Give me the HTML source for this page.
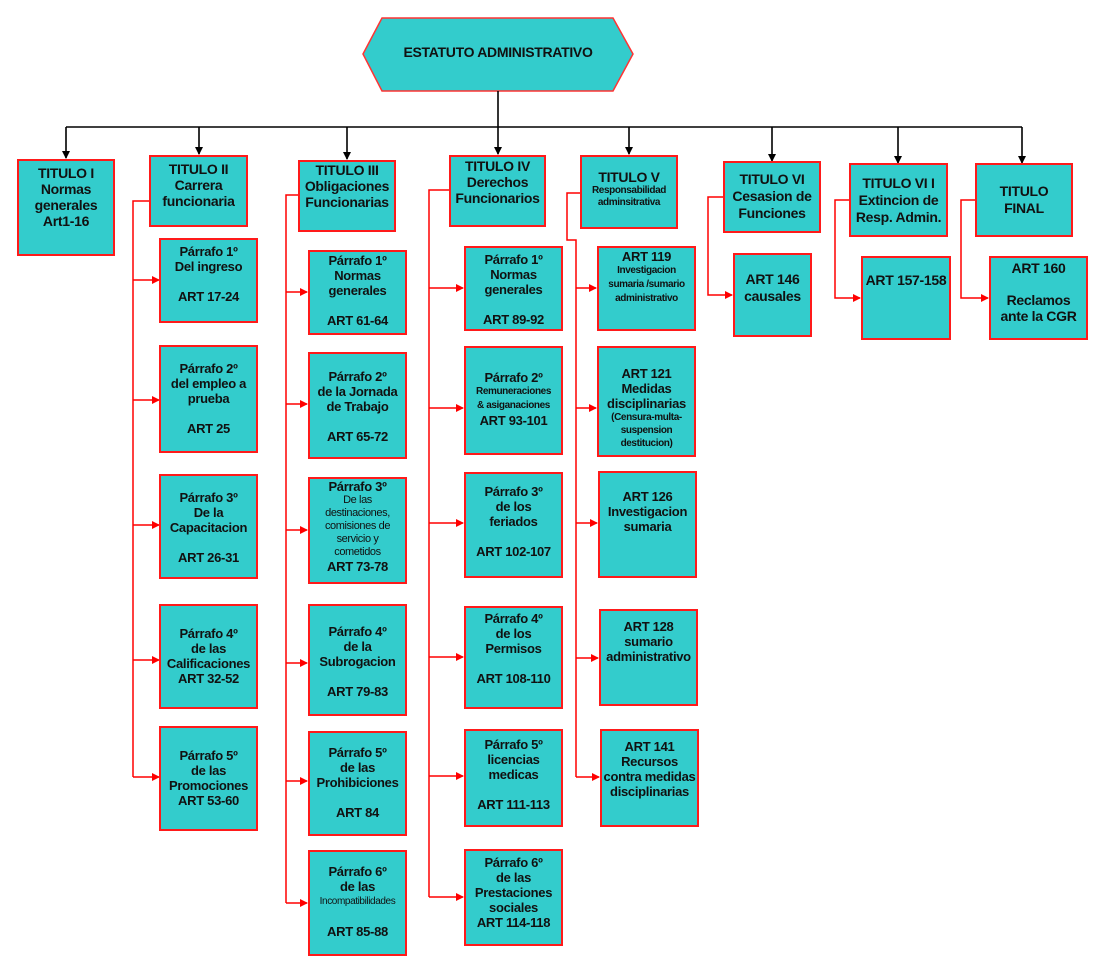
<!DOCTYPE html>
<html><head><meta charset="utf-8"><style>
html,body{margin:0;padding:0;background:#fff;}
body{width:1099px;height:978px;position:relative;overflow:hidden;font-family:"Liberation Sans",Arial,sans-serif;}
.b{position:absolute;box-sizing:border-box;background:#33cccc;border:2px solid #ff1a1a;font-weight:bold;color:#111;font-size:13px;line-height:15px;text-align:center;letter-spacing:-0.3px;padding-top:4px;}
.s{display:block;font-size:10px;line-height:12px;letter-spacing:-0.4px;}
.t{position:absolute;font-weight:bold;font-size:14px;color:#111;letter-spacing:-0.3px;}
svg{position:absolute;left:0;top:0;}
</style></head><body>
<svg width="1099" height="978">
<defs>
<marker id="ab" markerWidth="8" markerHeight="8" refX="7" refY="4" orient="auto" markerUnits="userSpaceOnUse"><path d="M0,0 L8,4 L0,8z" fill="#000"/></marker>
<marker id="ar" markerWidth="8" markerHeight="8" refX="7" refY="4" orient="auto" markerUnits="userSpaceOnUse"><path d="M0,0 L8,4 L0,8z" fill="#f00"/></marker>
</defs>
<polygon points="363,54 382,18 613,18 633,54 613,91 382,91" fill="#33cccc" stroke="#ff3333" stroke-width="1.5"/>
<g stroke="#000" stroke-width="1.6" fill="none">
<line x1="498" y1="91" x2="498" y2="127"/>
<line x1="66" y1="127" x2="1022" y2="127"/>
<line x1="66" y1="127" x2="66" y2="158" marker-end="url(#ab)"/>
<line x1="199" y1="127" x2="199" y2="154" marker-end="url(#ab)"/>
<line x1="347" y1="127" x2="347" y2="159" marker-end="url(#ab)"/>
<line x1="498" y1="127" x2="498" y2="154" marker-end="url(#ab)"/>
<line x1="629" y1="127" x2="629" y2="154" marker-end="url(#ab)"/>
<line x1="772" y1="127" x2="772" y2="161" marker-end="url(#ab)"/>
<line x1="898" y1="127" x2="898" y2="163" marker-end="url(#ab)"/>
<line x1="1022" y1="127" x2="1022" y2="163" marker-end="url(#ab)"/>
</g>
<g stroke="#f00" stroke-width="1.5" fill="none">
<polyline points="149,201 133,201 133,777"/>
<line x1="133" y1="280" x2="159" y2="280" marker-end="url(#ar)"/>
<line x1="133" y1="400" x2="159" y2="400" marker-end="url(#ar)"/>
<line x1="133" y1="525" x2="159" y2="525" marker-end="url(#ar)"/>
<line x1="133" y1="660" x2="159" y2="660" marker-end="url(#ar)"/>
<line x1="133" y1="777" x2="159" y2="777" marker-end="url(#ar)"/>
<polyline points="298,195 286,195 286,903"/>
<line x1="286" y1="292" x2="307" y2="292" marker-end="url(#ar)"/>
<line x1="286" y1="404" x2="307" y2="404" marker-end="url(#ar)"/>
<line x1="286" y1="530" x2="307" y2="530" marker-end="url(#ar)"/>
<line x1="286" y1="663" x2="307" y2="663" marker-end="url(#ar)"/>
<line x1="286" y1="781" x2="307" y2="781" marker-end="url(#ar)"/>
<line x1="286" y1="903" x2="307" y2="903" marker-end="url(#ar)"/>
<polyline points="449,190 429,190 429,897"/>
<line x1="429" y1="288" x2="463" y2="288" marker-end="url(#ar)"/>
<line x1="429" y1="408" x2="463" y2="408" marker-end="url(#ar)"/>
<line x1="429" y1="523" x2="463" y2="523" marker-end="url(#ar)"/>
<line x1="429" y1="657" x2="463" y2="657" marker-end="url(#ar)"/>
<line x1="429" y1="776" x2="463" y2="776" marker-end="url(#ar)"/>
<line x1="429" y1="897" x2="463" y2="897" marker-end="url(#ar)"/>
<polyline points="580,193 567,193 567,240 576,240 576,777"/>
<line x1="576" y1="288" x2="596" y2="288" marker-end="url(#ar)"/>
<line x1="576" y1="408" x2="596" y2="408" marker-end="url(#ar)"/>
<line x1="576" y1="523" x2="597" y2="523" marker-end="url(#ar)"/>
<line x1="576" y1="658" x2="598" y2="658" marker-end="url(#ar)"/>
<line x1="576" y1="777" x2="599" y2="777" marker-end="url(#ar)"/>
<polyline points="723,197 708,197 708,295 732,295" marker-end="url(#ar)"/>
<polyline points="849,200 835,200 835,298 860,298" marker-end="url(#ar)"/>
<polyline points="975,200 961,200 961,298 988,298" marker-end="url(#ar)"/>
</g>
</svg>
<div class="t" style="left:363px;top:44px;width:270px;text-align:center;">ESTATUTO ADMINISTRATIVO</div>

<div class="b" style="left:17px;top:159px;width:98px;height:97px;font-size:14px;line-height:16px;">TITULO I<br>Normas<br>generales<br>Art1-16</div>
<div class="b" style="left:149px;top:155px;width:99px;height:72px;font-size:14px;line-height:16px;">TITULO II<br>Carrera<br>funcionaria</div>
<div class="b" style="left:298px;top:160px;width:98px;height:72px;font-size:14px;line-height:16px;padding-top:0;">TITULO III<br>Obligaciones<br>Funcionarias</div>
<div class="b" style="left:449px;top:155px;width:97px;height:72px;font-size:14px;line-height:16px;padding-top:1px;">TITULO IV<br>Derechos<br>Funcionarios</div>
<div class="b" style="left:580px;top:155px;width:98px;height:74px;font-size:14px;line-height:16px;padding-top:12px;">TITULO V<span class="s">Responsabilidad<br>adminsitrativa</span></div>
<div class="b" style="left:723px;top:161px;width:98px;height:72px;font-size:14px;line-height:17px;padding-top:8px;">TITULO VI<br>Cesasion de<br>Funciones</div>
<div class="b" style="left:849px;top:163px;width:99px;height:74px;font-size:14px;line-height:17px;padding-top:10px;">TITULO VI I<br>Extincion de<br>Resp. Admin.</div>
<div class="b" style="left:975px;top:163px;width:98px;height:74px;font-size:14px;line-height:17px;padding-top:18px;">TITULO<br>FINAL</div>

<div class="b" style="left:159px;top:238px;width:99px;height:85px;">Párrafo 1º<br>Del ingreso<br><br>ART 17-24</div>
<div class="b" style="left:159px;top:345px;width:99px;height:108px;padding-top:14px;">Párrafo 2º<br>del empleo a<br>prueba<br><br>ART 25</div>
<div class="b" style="left:159px;top:474px;width:99px;height:105px;padding-top:14px;">Párrafo 3º<br>De la<br>Capacitacion<br><br>ART 26-31</div>
<div class="b" style="left:159px;top:604px;width:99px;height:105px;padding-top:20px;">Párrafo 4º<br>de las<br>Calificaciones<br>ART 32-52</div>
<div class="b" style="left:159px;top:726px;width:99px;height:105px;padding-top:20px;">Párrafo 5º<br>de las<br>Promociones<br>ART 53-60</div>

<div class="b" style="left:308px;top:250px;width:99px;height:85px;padding-top:1px;">Párrafo 1º<br>Normas<br>generales<br><br>ART 61-64</div>
<div class="b" style="left:308px;top:352px;width:99px;height:107px;padding-top:15px;">Párrafo 2º<br>de la Jornada<br>de Trabajo<br><br>ART 65-72</div>
<div class="b" style="left:308px;top:477px;width:99px;height:107px;padding-top:0;">Párrafo 3º<span class="s" style="font-weight:normal;line-height:13px;font-size:11px;">De las<br>destinaciones,<br>comisiones de<br>servicio y<br>cometidos</span>ART 73-78</div>
<div class="b" style="left:308px;top:604px;width:99px;height:112px;padding-top:18px;">Párrafo 4º<br>de la<br>Subrogacion<br><br>ART 79-83</div>
<div class="b" style="left:308px;top:731px;width:99px;height:105px;padding-top:12px;">Párrafo 5º<br>de las<br>Prohibiciones<br><br>ART 84</div>
<div class="b" style="left:308px;top:850px;width:99px;height:106px;padding-top:12px;">Párrafo 6º<br>de las<span class="s" style="font-weight:normal;line-height:15px;">Incompatibilidades</span><br>ART 85-88</div>

<div class="b" style="left:464px;top:246px;width:99px;height:85px;">Párrafo 1º<br>Normas<br>generales<br><br>ART 89-92</div>
<div class="b" style="left:464px;top:346px;width:99px;height:109px;padding-top:22px;">Párrafo 2º<span class="s" style="line-height:14px;">Remuneraciones<br>&amp; asiganaciones</span>ART 93-101</div>
<div class="b" style="left:464px;top:472px;width:99px;height:106px;padding-top:10px;">Párrafo 3º<br>de los<br>feriados<br><br>ART 102-107</div>
<div class="b" style="left:464px;top:606px;width:99px;height:103px;padding-top:3px;">Párrafo 4º<br>de los<br>Permisos<br><br>ART 108-110</div>
<div class="b" style="left:464px;top:729px;width:99px;height:98px;padding-top:6px;">Párrafo 5º<br>licencias<br>medicas<br><br>ART 111-113</div>
<div class="b" style="left:464px;top:849px;width:99px;height:97px;padding-top:4px;">Párrafo 6º<br>de las<br>Prestaciones<br>sociales<br>ART 114-118</div>

<div class="b" style="left:597px;top:246px;width:99px;height:85px;padding-top:1px;">ART 119<span class="s" style="line-height:14px;">Investigacion<br>sumaria /sumario<br>administrativo</span></div>
<div class="b" style="left:597px;top:346px;width:99px;height:111px;padding-top:18px;">ART 121<br>Medidas<br>disciplinarias<span class="s" style="line-height:13px;">(Censura-multa-<br>suspension<br>destitucion)</span></div>
<div class="b" style="left:598px;top:471px;width:99px;height:107px;padding-top:16px;">ART 126<br>Investigacion<br>sumaria</div>
<div class="b" style="left:599px;top:609px;width:99px;height:97px;padding-top:8px;">ART 128<br>sumario<br>administrativo</div>
<div class="b" style="left:600px;top:729px;width:99px;height:98px;padding-top:8px;">ART 141<br>Recursos<br>contra medidas<br>disciplinarias</div>

<div class="b" style="left:733px;top:253px;width:79px;height:84px;padding-top:16px;font-size:14px;line-height:17px;">ART 146<br>causales</div>
<div class="b" style="left:861px;top:256px;width:90px;height:84px;padding-top:15px;font-size:14px;">ART 157-158</div>
<div class="b" style="left:989px;top:256px;width:99px;height:84px;padding-top:2px;font-size:14px;line-height:16px;">ART 160<br><br>Reclamos<br>ante la CGR</div>
</body></html>
